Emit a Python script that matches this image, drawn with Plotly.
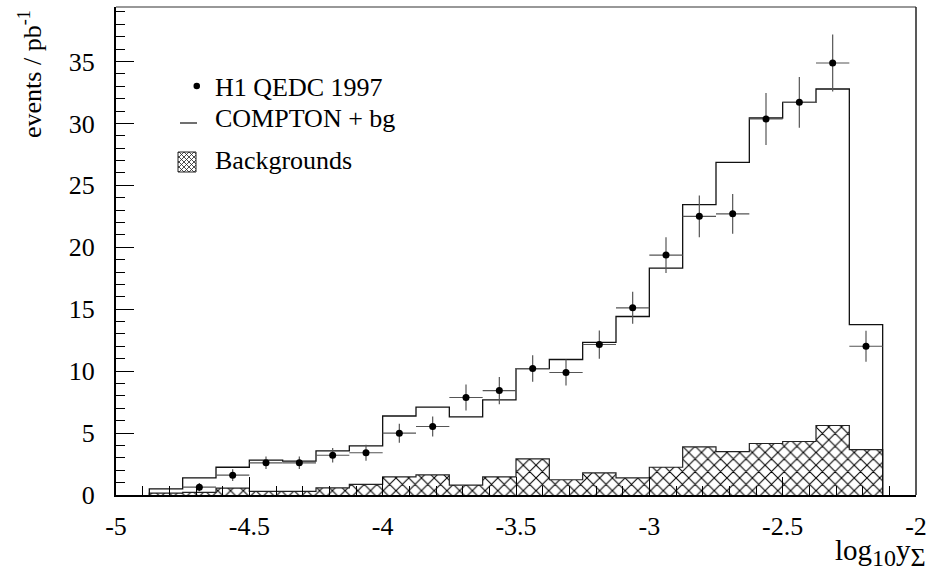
import plotly.graph_objects as go

# ---- data ----
bin_edges = [-4.875, -4.75, -4.625, -4.5, -4.375, -4.25, -4.125, -4.0, -3.875, -3.75,
             -3.625, -3.5, -3.375, -3.25, -3.125, -3.0, -2.875, -2.75, -2.625, -2.5,
             -2.375, -2.25, -2.125]
bin_centers = [-4.8125, -4.6875, -4.5625, -4.4375, -4.3125, -4.1875, -4.0625, -3.9375,
               -3.8125, -3.6875, -3.5625, -3.4375, -3.3125, -3.1875, -3.0625, -2.9375,
               -2.8125, -2.6875, -2.5625, -2.4375, -2.3125, -2.1875]
data_vals = [None, 0.63, 1.60, 2.60, 2.60, 3.21, 3.41, 4.99, 5.53, 7.87, 8.43, 10.21,
             9.89, 12.15, 15.11, 19.37, 22.50, 22.70, 30.36, 31.70, 34.88, 12.01]
data_errs = [None, 0.33, 0.47, 0.50, 0.50, 0.58, 0.65, 0.77, 0.80, 1.05, 1.10, 1.07,
             1.05, 1.14, 1.29, 1.45, 1.68, 1.61, 2.10, 2.04, 2.30, 1.26]
mc_vals = [0.50, 1.39, 2.24, 2.81, 2.73, 3.57, 3.97, 6.38, 7.10, 6.31, 7.68, 10.21,
           10.94, 12.33, 14.41, 18.31, 23.45, 26.86, 30.44, 31.70, 32.78, 13.76]
bg_vals = [0.15, 0.22, 0.55, 0.30, 0.30, 0.58, 0.85, 1.47, 1.63, 0.79, 1.47, 2.92,
           1.23, 1.79, 1.39, 2.24, 3.89, 3.51, 4.16, 4.32, 5.61, 3.67]
half_width = 0.0625

x_tick_vals = [-5, -4.5, -4, -3.5, -3, -2.5, -2]
x_tick_text = ["-5", "-4.5", "-4", "-3.5", "-3", "-2.5", "-2"]
y_tick_vals = [0, 5, 10, 15, 20, 25, 30, 35]
y_tick_text = ["0", "5", "10", "15", "20", "25", "30", "35"]

legend_labels = ["H1 QEDC 1997", "COMPTON + bg", "Backgrounds"]

FONT = "Liberation Serif"
FS = 26

# ---- geometry helpers ----
W, H = 938, 581
ML, MR, MT, MB = 116, 22, 7, 86
PW, PH = W - ML - MR, H - MT - MB


def px(x):
    return (x - ML) / PW


def py(y):
    return (H - MB - y) / PH


def step_xy(edges, vals):
    xs = [edges[0]] + edges[:-1] + [edges[-1]]
    ys = [0] + list(vals) + [0]
    return xs, ys


fig = go.Figure()

# backgrounds: hatched bars
fig.add_trace(go.Bar(
    x=bin_centers, y=bg_vals, width=0.125,
    marker=dict(color="white", line=dict(width=0),
                pattern=dict(shape="x", fgcolor="black", bgcolor="white",
                             size=9, solidity=0.22, fillmode="replace")),
    showlegend=False, hoverinfo="skip"))

# backgrounds outline
bx, by = step_xy(bin_edges, bg_vals)
fig.add_trace(go.Scatter(x=bx, y=by, mode="lines", line=dict(shape="hv", color="#222", width=1.2),
                         showlegend=False, hoverinfo="skip"))

# COMPTON + bg outline
mx, my = step_xy(bin_edges, mc_vals)
fig.add_trace(go.Scatter(x=mx, y=my, mode="lines", line=dict(shape="hv", color="#111", width=1.3),
                         showlegend=False, hoverinfo="skip"))

# data points
fig.add_trace(go.Scatter(
    x=bin_centers, y=data_vals, mode="markers",
    marker=dict(color="black", size=7, symbol="circle"),
    error_y=dict(type="data", array=data_errs, thickness=1.2, width=0, color="#555"),
    error_x=dict(type="constant", value=half_width, thickness=1.2, width=0, color="#555"),
    showlegend=False))

shapes = []
# frame top & right
shapes.append(dict(type="line", xref="paper", yref="paper", x0=0, x1=1, y0=1, y1=1,
                   line=dict(color="#333", width=1.2)))
shapes.append(dict(type="line", xref="paper", yref="paper", x0=1, x1=1, y0=0, y1=1,
                   line=dict(color="#222", width=1.5)))

# legend symbols
shapes.append(dict(type="circle", xref="paper", yref="paper",
                   x0=px(193.5), x1=px(200), y0=py(89.3), y1=py(82.8),
                   fillcolor="black", line=dict(color="black", width=0)))
shapes.append(dict(type="line", xref="paper", yref="paper",
                   x0=px(180), x1=px(197), y0=py(123), y1=py(123),
                   line=dict(color="#222", width=1.3)))
bx0, bx1, by0, by1 = 178, 196, 152, 172
shapes.append(dict(type="rect", xref="paper", yref="paper",
                   x0=px(bx0), x1=px(bx1), y0=py(by1), y1=py(by0),
                   fillcolor="white", line=dict(color="#222", width=1)))


def clip_seg(xa, ya_, xb, yb_):
    def x_at(yv):
        return xa + (yv - ya_) * (xb - xa) / (yb_ - ya_)
    out = []
    for (xx, yy) in [(xa, ya_), (xb, yb_)]:
        if yy < by0:
            out.append((x_at(by0), by0))
        elif yy > by1:
            out.append((x_at(by1), by1))
        else:
            out.append((xx, yy))
    (x1_, y1_), (x2_, y2_) = out
    if abs(x2_ - x1_) < 0.5 or min(x1_, x2_) < bx0 - 0.01 or max(x1_, x2_) > bx1 + 0.01:
        return None
    return out


segs = []
for k in range(-24, 40, 5):
    s1 = clip_seg(bx0, by0 - k, bx1, by0 - k + (bx1 - bx0))
    s2 = clip_seg(bx0, by1 + k, bx1, by1 + k - (bx1 - bx0))
    for s in (s1, s2):
        if s:
            segs.append(s)
for (p1, p2) in segs:
    shapes.append(dict(type="line", xref="paper", yref="paper",
                       x0=px(p1[0]), y0=py(p1[1]), x1=px(p2[0]), y1=py(p2[1]),
                       line=dict(color="#222", width=0.8)))

annotations = []
leg_y = [86.5, 117.5, 160]
for lab, yy in zip(legend_labels, leg_y):
    annotations.append(dict(text=lab, xref="paper", yref="paper", x=px(213), y=py(yy + 1),
                            xanchor="left", yanchor="middle", showarrow=False,
                            font=dict(family=FONT, size=FS, color="black")))

# axis titles
annotations.append(dict(text="events / pb<sup>-1</sup>", xref="paper", yref="paper",
                        x=px(31), y=py(8), xanchor="center", yanchor="top", textangle=-90,
                        showarrow=False, font=dict(family=FONT, size=FS, color="black")))
annotations.append(dict(
    text="log<sub><span style='font-size:24px'>10</span></sub>y<sub><span style='font-size:26px'>Σ</span></sub>",
    xref="paper", yref="paper",
    x=px(928), y=py(553), xanchor="right", yanchor="middle",
    showarrow=False, font=dict(family=FONT, size=29, color="black")))

fig.update_layout(
    width=W, height=H,
    margin=dict(l=ML, r=MR, t=MT, b=MB),
    paper_bgcolor="white", plot_bgcolor="white",
    bargap=0, barmode="overlay",
    shapes=shapes, annotations=annotations,
    showlegend=False,
    font=dict(family=FONT, size=FS, color="black"),
)
fig.update_xaxes(
    range=[-5, -2], showgrid=False, zeroline=False,
    showline=True, linecolor="black", linewidth=2,
    tickmode="array", tickvals=x_tick_vals, ticktext=x_tick_text,
    ticks="inside", ticklen=18, tickwidth=1, tickcolor="black",
    minor=dict(tick0=-5, dtick=0.1, ticks="inside", ticklen=9, tickwidth=1, tickcolor="black"),
    tickfont=dict(family=FONT, size=FS, color="black"),
    ticklabelstandoff=7,
)
fig.update_yaxes(
    range=[0, 39.4], showgrid=False, zeroline=False,
    showline=True, linecolor="black", linewidth=2,
    tickmode="array", tickvals=y_tick_vals, ticktext=y_tick_text,
    ticks="inside", ticklen=18, tickwidth=1, tickcolor="black",
    minor=dict(tick0=0, dtick=1, ticks="inside", ticklen=9, tickwidth=1, tickcolor="black"),
    tickfont=dict(family=FONT, size=FS, color="black"),
    ticklabelstandoff=14,
)

fig.write_html("out.html")
